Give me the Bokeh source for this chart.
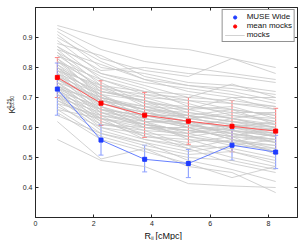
from bokeh.plotting import figure
from bokeh.embed import file_html
from bokeh.resources import INLINE
from bokeh.models import (Legend, LegendItem, Label, Whisker, ColumnDataSource,
                          FixedTicker, LinearAxis, TeeHead)
import math

# ---- data ----
r_bins = [0.75, 2.25, 3.75, 5.25, 6.75, 8.25]

muse_k = [0.728, 0.558, 0.494, 0.480, 0.541, 0.518]
muse_up = [0.815, 0.610, 0.541, 0.527, 0.593, 0.574]
muse_lo = [0.641, 0.508, 0.452, 0.433, 0.491, 0.463]

mean_k = [0.767, 0.681, 0.641, 0.621, 0.604, 0.588]
mean_up = [0.833, 0.756, 0.717, 0.700, 0.690, 0.664]
mean_lo = [0.700, 0.607, 0.567, 0.544, 0.519, 0.513]

mocks = [
    [0.94, 0.90, 0.87, 0.86, 0.83, 0.80],
    [0.93, 0.86, 0.82, 0.80, 0.78, 0.76],
    [0.92, 0.83, 0.79, 0.77, 0.83, 0.78],
    [0.91, 0.80, 0.78, 0.75, 0.74, 0.72],
    [0.90, 0.82, 0.76, 0.72, 0.70, 0.70],
    [0.89, 0.78, 0.74, 0.70, 0.745, 0.70],
    [0.88, 0.84, 0.77, 0.74, 0.72, 0.69],
    [0.87, 0.76, 0.72, 0.71, 0.68, 0.66],
    [0.87, 0.79, 0.80, 0.78, 0.77, 0.75],
    [0.86, 0.74, 0.70, 0.69, 0.68, 0.67],
    [0.85, 0.77, 0.73, 0.67, 0.66, 0.64],
    [0.85, 0.72, 0.69, 0.66, 0.67, 0.63],
    [0.84, 0.75, 0.68, 0.64, 0.62, 0.61],
    [0.83, 0.73, 0.71, 0.68, 0.64, 0.62],
    [0.83, 0.70, 0.66, 0.65, 0.63, 0.60],
    [0.82, 0.74, 0.67, 0.66, 0.70, 0.66],
    [0.82, 0.71, 0.65, 0.62, 0.60, 0.59],
    [0.81, 0.72, 0.69, 0.63, 0.61, 0.58],
    [0.81, 0.69, 0.64, 0.64, 0.62, 0.60],
    [0.80, 0.70, 0.66, 0.60, 0.59, 0.57],
    [0.80, 0.68, 0.65, 0.63, 0.65, 0.62],
    [0.79, 0.71, 0.63, 0.61, 0.58, 0.56],
    [0.79, 0.67, 0.62, 0.62, 0.60, 0.58],
    [0.78, 0.69, 0.66, 0.64, 0.59, 0.55],
    [0.78, 0.66, 0.61, 0.59, 0.57, 0.60],
    [0.77, 0.68, 0.64, 0.61, 0.62, 0.59],
    [0.77, 0.65, 0.63, 0.60, 0.56, 0.54],
    [0.76, 0.70, 0.62, 0.58, 0.60, 0.57],
    [0.76, 0.67, 0.60, 0.59, 0.58, 0.56],
    [0.75, 0.66, 0.64, 0.62, 0.57, 0.55],
    [0.75, 0.64, 0.61, 0.57, 0.59, 0.58],
    [0.74, 0.65, 0.60, 0.60, 0.56, 0.53],
    [0.74, 0.63, 0.59, 0.58, 0.61, 0.57],
    [0.73, 0.66, 0.62, 0.56, 0.55, 0.52],
    [0.73, 0.62, 0.58, 0.57, 0.54, 0.56],
    [0.72, 0.64, 0.57, 0.55, 0.57, 0.51],
    [0.72, 0.61, 0.60, 0.58, 0.55, 0.54],
    [0.71, 0.63, 0.56, 0.54, 0.53, 0.50],
    [0.71, 0.60, 0.58, 0.53, 0.56, 0.52],
    [0.70, 0.62, 0.57, 0.56, 0.52, 0.49],
    [0.70, 0.59, 0.55, 0.52, 0.54, 0.53],
    [0.69, 0.61, 0.59, 0.54, 0.50, 0.47],
    [0.68, 0.58, 0.54, 0.51, 0.52, 0.48],
    [0.67, 0.60, 0.56, 0.53, 0.48, 0.45],
    [0.66, 0.57, 0.53, 0.50, 0.49, 0.46],
    [0.65, 0.56, 0.52, 0.48, 0.433, 0.47],
    [0.64, 0.58, 0.55, 0.49, 0.46, 0.42],
    [0.62, 0.495, 0.53, 0.47, 0.45, 0.383],
    [0.56, 0.49, 0.47, 0.413, 0.405, 0.40],
    [0.84, 0.78, 0.75, 0.73, 0.71, 0.68],
    [0.80, 0.73, 0.68, 0.67, 0.65, 0.65],
    [0.78, 0.72, 0.70, 0.66, 0.63, 0.61],
    [0.76, 0.69, 0.67, 0.63, 0.64, 0.63],
    [0.74, 0.68, 0.65, 0.62, 0.60, 0.62],
    [0.72, 0.67, 0.63, 0.60, 0.63, 0.60],
    [0.70, 0.65, 0.61, 0.59, 0.61, 0.59],
    [0.68, 0.64, 0.62, 0.61, 0.58, 0.55],
    [0.66, 0.63, 0.60, 0.57, 0.55, 0.58],
    [0.79, 0.74, 0.72, 0.69, 0.66, 0.64],
    [0.77, 0.71, 0.69, 0.65, 0.63, 0.65],
    [0.75, 0.70, 0.67, 0.64, 0.66, 0.61],
    [0.73, 0.69, 0.66, 0.63, 0.61, 0.60],
    [0.82, 0.76, 0.71, 0.70, 0.69, 0.67],
    [0.86, 0.81, 0.76, 0.74, 0.73, 0.71],
    [0.71, 0.66, 0.64, 0.61, 0.59, 0.57],
    [0.69, 0.63, 0.61, 0.59, 0.57, 0.56],
]

x_ticks = [0, 2, 4, 6, 8]
y_ticks = [0.4, 0.5, 0.6, 0.7, 0.8, 0.9]

AX = "#262626"
FONT = "Liberation Sans"

p = figure(width=302, height=240, x_range=(0, 9), y_range=(0.3, 1.0),
           output_backend="svg", toolbar_location=None,
           min_border_left=35, min_border_right=5, min_border_top=7,
           min_border_bottom=23)
p.background_fill_color = "white"
p.border_fill_color = "white"
p.grid.visible = False
p.outline_line_color = AX
p.outline_line_width = 1

for ax in (p.xaxis[0], p.yaxis[0]):
    ax.axis_line_color = AX
    ax.major_tick_line_color = AX
    ax.major_tick_in = 3
    ax.major_tick_out = 0
    ax.minor_tick_line_color = None
    ax.major_label_text_font = FONT
    ax.major_label_text_font_size = "7px"
    ax.major_label_text_color = AX
p.xaxis[0].ticker = FixedTicker(ticks=x_ticks)
p.yaxis[0].ticker = FixedTicker(ticks=y_ticks)
p.xaxis[0].major_label_standoff = 3
p.yaxis[0].major_label_standoff = 3

top_ax = LinearAxis(ticker=FixedTicker(ticks=x_ticks),
                    major_label_overrides={t: "" for t in x_ticks},
                    major_label_text_font_size="1px",
                    major_label_standoff=0, major_tick_in=3, major_tick_out=0,
                    minor_tick_line_color=None, axis_line_color=AX,
                    major_tick_line_color=AX)
right_ax = LinearAxis(ticker=FixedTicker(ticks=y_ticks),
                      major_label_overrides={t: "" for t in y_ticks},
                      major_label_text_font_size="1px",
                      major_label_standoff=0, major_tick_in=3, major_tick_out=0,
                      minor_tick_line_color=None, axis_line_color=AX,
                      major_tick_line_color=AX)
p.add_layout(top_ax, "above")
p.add_layout(right_ax, "right")

# mocks
mock_r = p.multi_line(xs=[r_bins] * len(mocks), ys=mocks,
                      line_color="#c6c6c6", line_width=0.8)

# mean mocks
red_src = ColumnDataSource(dict(x=r_bins, y=mean_k, up=mean_up, lo=mean_lo))
p.add_layout(Whisker(source=red_src, base="x", upper="up", lower="lo",
                     line_color="#ff7070", line_width=1,
                     upper_head=TeeHead(size=5, line_color="#ff8080"),
                     lower_head=TeeHead(size=5, line_color="#ff8080")))
p.line("x", "y", source=red_src, line_color="#ff5a5a", line_width=1)
red_pts = p.scatter("x", "y", source=red_src, size=4, marker="square",
                    fill_color="#ff0000", line_color="#ff0000")

# MUSE wide
blue_src = ColumnDataSource(dict(x=r_bins, y=muse_k, up=muse_up, lo=muse_lo))
p.add_layout(Whisker(source=blue_src, base="x", upper="up", lower="lo",
                     line_color="#7f95ff", line_width=1,
                     upper_head=TeeHead(size=5, line_color="#8fa2ff"),
                     lower_head=TeeHead(size=5, line_color="#8fa2ff")))
p.line("x", "y", source=blue_src, line_color="#6680ff", line_width=1)
blue_pts = p.scatter("x", "y", source=blue_src, size=4, marker="square",
                     fill_color="#1f3cff", line_color="#1f3cff")

# legend
blue_leg = p.scatter([-5], [-5], size=5, marker="circle", fill_color="#1f3cff",
                     line_color="#1f3cff")
red_leg = p.scatter([-5], [-5], size=5, marker="circle", fill_color="#ff0000",
                    line_color="#ff0000")
legend = Legend(items=[LegendItem(label="MUSE Wide", renderers=[blue_leg]),
                       LegendItem(label="mean mocks", renderers=[red_leg]),
                       LegendItem(label="mocks", renderers=[mock_r])],
                location="top_right", margin=2, padding=2, spacing=0,
                label_height=8, glyph_height=8, glyph_width=20,
                label_standoff=2, label_text_font=FONT,
                label_text_font_size="8px", label_text_color="#111111",
                border_line_color=AX, border_line_width=1,
                background_fill_alpha=1)
p.add_layout(legend)

# axis labels built from text pieces, placed in side panels (not clipped)
kw = dict(text_font=FONT, text_color="#111111")
p.add_layout(Label(x=-0.824, y=0.6467, text="K", angle=math.pi / 2,
                   text_font_size="8.5px", text_baseline="alphabetic", **kw), "left")
p.add_layout(Label(x=-1.010, y=0.6633, text="0.25\n25.50", angle=math.pi / 2,
                   text_font_size="5px", text_baseline="top",
                   text_line_height=0.5, **kw), "left")
p.add_layout(Label(x=3.744, y=0.240, text="R\u2002[cMpc]", text_font_size="9px",
                   text_baseline="alphabetic", **kw), "below")
p.add_layout(Label(x=3.978, y=0.2317, text="ij", text_font_size="5px",
                   text_baseline="alphabetic", **kw), "right")

open("out.html", "w").write(file_html(p, INLINE))
